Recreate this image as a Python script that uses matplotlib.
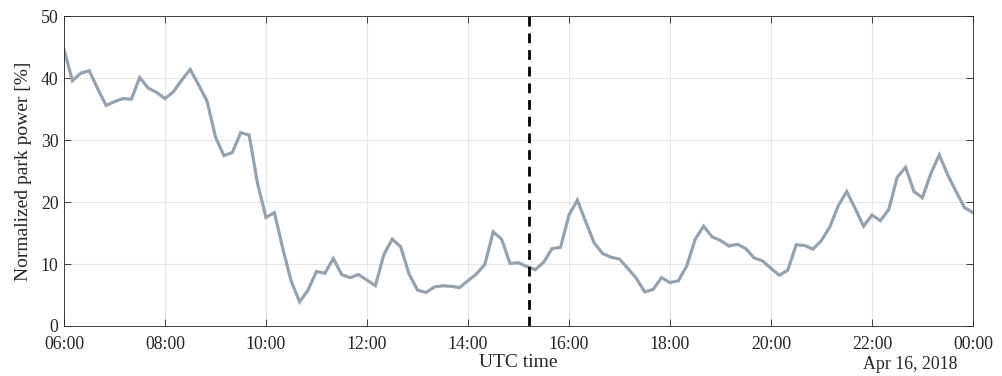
import matplotlib
matplotlib.use("Agg")
import matplotlib.pyplot as plt
import matplotlib.dates as mdates
import numpy as np
import pandas as pd

# park power every 10 minutes, 06:00 -> 00:00 UTC
power = [44.6, 39.6, 40.8, 41.2, 38.3, 35.6, 36.2, 36.7, 36.6, 40.1,
         38.4, 37.7, 36.7, 37.8, 39.7, 41.4, 38.9, 36.3, 30.5, 27.5,
         28.0, 31.2, 30.8, 23.0, 17.5, 18.3, 12.5, 7.2, 3.9, 5.8,
         8.8, 8.5, 10.9, 8.3, 7.8, 8.3, 7.4, 6.5, 11.5, 14.0,
         12.8, 8.4, 5.8, 5.4, 6.3, 6.5, 6.4, 6.2, 7.3, 8.4,
         9.9, 15.2, 14.0, 10.1, 10.2, 9.6, 9.1, 10.3, 12.5, 12.7,
         17.9, 20.3, 16.8, 13.4, 11.7, 11.1, 10.8, 9.3, 7.7, 5.5,
         5.9, 7.8, 7.0, 7.3, 9.7, 14.0, 16.1, 14.4, 13.8, 12.9,
         13.2, 12.5, 11.0, 10.5, 9.3, 8.2, 9.0, 13.1, 13.0, 12.4,
         13.8, 16.0, 19.4, 21.7, 19.0, 16.1, 17.9, 17.0, 18.8, 24.0,
         25.6, 21.7, 20.7, 24.6, 27.6, 24.4, 21.7, 19.1, 18.3]
start = "2018-04-15 06:00"
marker_time = pd.Timestamp("2018-04-15 15:13")

t = pd.date_range(start, periods=len(power), freq="10min")

plt.rcParams['font.family'] = ['Liberation Serif', 'DejaVu Serif']

fig = plt.figure(figsize=(10.03, 3.76), dpi=100)
ax = fig.add_axes([0.0638, 0.133, 0.9062, 0.824])

ax.plot(t, power, color='#95a3b0', linewidth=2.3, solid_joinstyle='miter')
ax.axvline(marker_time, color='black', linestyle=(0, (3.5, 2.5)), linewidth=2.0)

ax.set_xlim(t[0], t[-1])
ax.set_ylim(0, 50)
ax.set_yticks(np.arange(0, 51, 10))
ax.xaxis.set_major_locator(mdates.HourLocator(byhour=range(0, 24, 2)))
ax.xaxis.set_major_formatter(mdates.DateFormatter('%H:%M'))

ax.grid(True, color='#e6e6e6', linewidth=0.8)
ax.set_axisbelow(True)
ax.tick_params(direction='in', length=5, width=0.6, top=True, right=True,
               colors='#262626', labelsize=12.8)
ax.tick_params(axis='x', pad=7)
ax.tick_params(axis='y', pad=4)
for s in ax.spines.values():
    s.set_color('#262626')
    s.set_linewidth(0.6)

ax.set_ylabel('Normalized park power [%]', fontsize=14, color='#262626', labelpad=6)
ax.set_xlabel('UTC time', fontsize=14, color='#262626', labelpad=1)
fig.text(0.955, 0.008, 'Apr 16, 2018', ha='right', va='bottom', fontsize=12.8, color='#262626')

fig.savefig('out.png', dpi=100)
